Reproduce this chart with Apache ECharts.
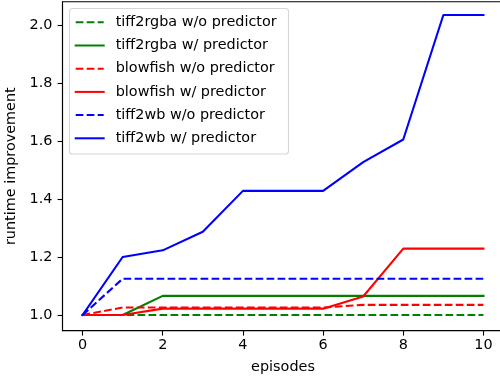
<!DOCTYPE html>
<html>
<head>
<meta charset="utf-8">
<script src="https://cdn.jsdelivr.net/npm/echarts@6/dist/echarts.min.js"></script>
<style>html,body{margin:0;padding:0;background:#fff}#c{width:500px;height:379px}</style>
</head>
<body>
<div id="c"></div>
<script>
const episodes = [0, 1, 2, 3, 4, 5, 6, 7, 8, 9, 10];
const xTicks = [0, 2, 4, 6, 8, 10];
const yTicks = [1.0, 1.2, 1.4, 1.6, 1.8, 2.0];
const tiff2rgbaWo = [1.0, 1.0, 1.0, 1.0, 1.0, 1.0, 1.0, 1.0, 1.0, 1.0, 1.0];
const tiff2rgbaW  = [1.0, 1.0, 1.066, 1.066, 1.066, 1.066, 1.066, 1.066, 1.066, 1.066, 1.066];
const blowfishWo  = [1.0, 1.026, 1.026, 1.026, 1.026, 1.026, 1.026, 1.035, 1.035, 1.035, 1.035];
const blowfishW   = [1.0, 1.0, 1.022, 1.022, 1.022, 1.022, 1.022, 1.064, 1.229, 1.229, 1.229];
const tiff2wbWo   = [1.0, 1.125, 1.125, 1.125, 1.125, 1.125, 1.125, 1.125, 1.125, 1.125, 1.125];
const tiff2wbW    = [1.0, 1.200, 1.223, 1.287, 1.428, 1.428, 1.428, 1.527, 1.605, 2.034, 2.034];

const FONT = 'DejaVu Sans';
const FS = 14.4;
const DASH = [7.7, 3.3];
function mk(name, vals, color, dashed) {
  return {
    name: name, type: 'line', symbol: 'none', showSymbol: false,
    data: episodes.map((e, i) => [e, vals[i]]),
    lineStyle: { color: color, width: 2.1, type: dashed ? DASH : 'solid', cap: dashed ? 'butt' : 'square' },
    itemStyle: { color: color },
    emphasis: { disabled: true },
    animation: false
  };
}
const chart = echarts.init(document.getElementById('c'), null, { renderer: 'canvas' });
chart.setOption({
  animation: false,
  grid: { left: 62.5, top: 1.7, right: -3.5, bottom: 48.3, containLabel: false, outerBoundsMode: 'none',
          show: true, borderColor: '#000', borderWidth: 1.1, backgroundColor: 'transparent' },
  xAxis: {
    type: 'value', min: -0.5, max: 10.5,
    name: 'episodes', nameLocation: 'middle', nameGap: 30,
    nameTextStyle: { fontFamily: FONT, fontSize: FS, color: '#000' },
    axisLine: { show: true, onZero: false, lineStyle: { color: '#000', width: 1.1 } },
    splitLine: { show: false },
    axisTick: { show: true, inside: false, customValues: xTicks, length: 4.9, lineStyle: { color: '#000', width: 1.1 } },
    axisLabel: { customValues: xTicks, margin: 8, fontFamily: FONT, fontSize: FS, color: '#000' }
  },
  yAxis: {
    type: 'value', min: 0.946, max: 2.080,
    name: 'runtime improvement', nameLocation: 'middle', nameGap: 36,
    nameTextStyle: { fontFamily: FONT, fontSize: FS, color: '#000' },
    axisLine: { show: true, onZero: false, lineStyle: { color: '#000', width: 1.1 } },
    splitLine: { show: false },
    axisTick: { show: true, inside: false, customValues: yTicks, length: 4.9, lineStyle: { color: '#000', width: 1.1 } },
    axisLabel: { customValues: yTicks, margin: 10, fontFamily: FONT, fontSize: FS, color: '#000', formatter: v => v.toFixed(1) }
  },
  graphic: [{
    type: 'rect', z: 3, silent: true,
    shape: { x: 69.5, y: 8.5, width: 219, height: 145.5, r: 3 },
    style: { fill: 'rgba(255,255,255,0.8)', stroke: '#d6d6d6', lineWidth: 1.1 }
  }],
  legend: {
    orient: 'vertical', left: 74.7, top: 15.3, padding: 0,
    itemWidth: 28, itemHeight: 14, itemGap: 9.2,
    z: 10,
    itemStyle: { opacity: 0 },
    textStyle: { fontFamily: FONT, fontSize: 14.4, lineHeight: 14, color: '#000', padding: [0, 0, 0, 7] },
    selectedMode: false,
    data: ['tiff2rgba w/o predictor', 'tiff2rgba w/ predictor', 'blowfish w/o predictor', 'blowfish w/ predictor', 'tiff2wb w/o predictor', 'tiff2wb w/ predictor']
  },
  series: [
    mk('tiff2rgba w/o predictor', tiff2rgbaWo, '#008000', true),
    mk('tiff2rgba w/ predictor', tiff2rgbaW, '#008000', false),
    mk('blowfish w/o predictor', blowfishWo, '#ff0000', true),
    mk('blowfish w/ predictor', blowfishW, '#ff0000', false),
    mk('tiff2wb w/o predictor', tiff2wbWo, '#0000ff', true),
    mk('tiff2wb w/ predictor', tiff2wbW, '#0000ff', false)
  ]
});
</script>
</body>
</html>
